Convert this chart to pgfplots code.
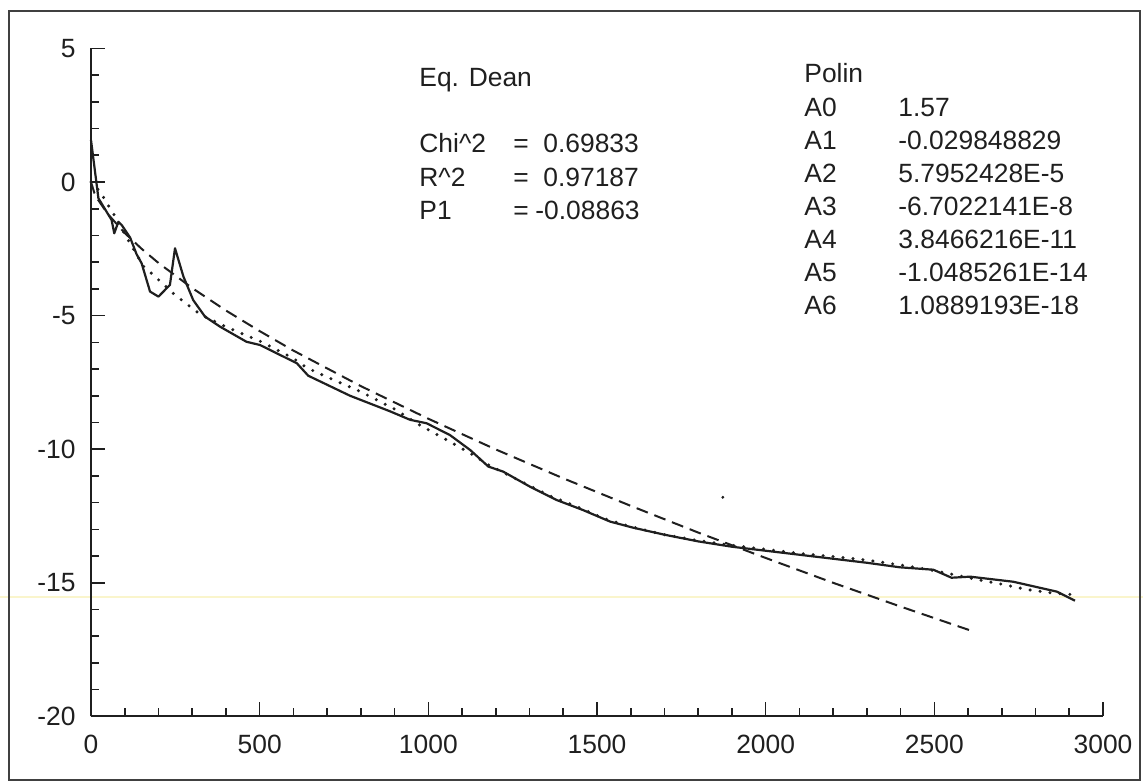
\documentclass[border=0pt]{standalone}
\usepackage{fontspec}
\setmainfont{Liberation Sans}
\usepackage{pgfplots}
\pgfplotsset{compat=1.18}

\definecolor{ink}{gray}{0.12}
\definecolor{scanline}{rgb}{0.98,0.96,0.80}

\begin{document}
\fontsize{13.2}{16}\selectfont
\begin{tikzpicture}
\useasboundingbox (-45.5pt,-32.8pt) rectangle (526pt,358.2pt);
% faint scan line across the page
\draw[scanline, line width=0.6pt] (-45.5pt,59.7pt) -- (526pt,59.7pt);
\begin{axis}[
    scale only axis, width=506pt, height=334pt,
    xmin=0, xmax=3000, ymin=-20, ymax=5,
    axis lines*=left, axis line style={ink, line width=1pt},
    xtick={0,500,...,3000}, ytick={-20,-15,...,5},
    xticklabels={0,500,1000,1500,2000,2500,3000},
    yticklabels={-20,-15,-10,-5,0,5},
    minor x tick num=4, minor y tick num=4,
    tick align=inside, major tick length=7pt, minor tick length=4pt,
    tick style={ink, line width=0.8pt},
    x tick label style={anchor=north, inner sep=0pt, yshift=-9pt, text=ink},
    y tick label style={anchor=east, inner sep=0pt, xshift=-7.5pt, text=ink},
    clip=false,
]
% measured data
\addplot[ink, line width=1.1pt, line join=round] coordinates {
    (0,1.57) (22,-0.61) (61,-1.42) (69,-1.92) (81,-1.49) (91,-1.61)
    (116,-2.08) (135,-2.70) (150,-3.04) (175,-4.10) (200,-4.29)
    (234,-3.85) (249,-2.48) (274,-3.54) (303,-4.42) (338,-5.04)
    (382,-5.41) (461,-5.98) (501,-6.10) (560,-6.47) (610,-6.78)
    (644,-7.25) (768,-8.00) (886,-8.58) (946,-8.90) (995,-9.03)
    (1064,-9.47) (1124,-10.03) (1178,-10.65) (1222,-10.84) (1301,-11.40)
    (1380,-11.90) (1459,-12.28) (1539,-12.71) (1608,-12.94) (1700,-13.20)
    (1800,-13.45) (1900,-13.65) (2000,-13.80) (2100,-13.95) (2200,-14.10)
    (2300,-14.25) (2398,-14.42) (2497,-14.51) (2551,-14.81) (2606,-14.77)
    (2734,-14.96) (2863,-15.33) (2917,-15.67)
};
% Dean equation fit
\addplot[ink, line width=1pt, dash pattern=on 6pt off 3.5pt] coordinates {
    (0,0) (10,-0.41) (20,-0.65) (50,-1.20) (100,-1.91) (150,-2.50)
    (200,-3.03) (300,-3.97) (400,-4.81) (500,-5.58) (600,-6.31)
    (800,-7.64) (1000,-8.86) (1200,-10.01) (1400,-11.09) (1600,-12.12)
    (1800,-13.12) (2000,-14.07) (2200,-15.00) (2400,-15.89) (2620,-16.84)
};
% polynomial fit
\addplot[ink, line width=1.7pt, line cap=round, dash pattern=on 0pt off 5pt] coordinates {
    (0,0.00) (27,-0.36) (46,-0.77) (66,-1.17) (100,-1.95) (155,-3.15)
    (190,-3.54) (244,-4.17) (279,-4.52) (313,-4.85) (338,-5.04)
    (400,-5.42) (500,-5.95) (600,-6.60) (639,-6.95) (700,-7.30)
    (800,-7.85) (900,-8.50) (975,-9.10) (1064,-9.72) (1124,-10.15)
    (1180,-10.60) (1250,-11.05) (1361,-11.75) (1450,-12.20) (1519,-12.59)
    (1600,-12.90) (1700,-13.20) (1800,-13.42) (1900,-13.60) (2000,-13.75)
    (2100,-13.90) (2200,-14.02) (2300,-14.15) (2398,-14.33) (2458,-14.45)
    (2541,-14.65) (2635,-14.90) (2695,-15.04) (2774,-15.25) (2848,-15.38)
    (2920,-15.45)
};
% stray speck
\addplot[only marks, mark=*, mark size=0.5pt, ink] coordinates {(1873,-11.8)};
\end{axis}
% fit summaries
\node[anchor=base west, inner sep=0pt, text=ink] at (164pt,314.7pt) {Eq. Dean};
\node[anchor=base west, inner sep=0pt, text=ink] at (164pt,281.7pt) {Chi\^{}2};
\node[anchor=base west, inner sep=0pt, text=ink] at (164pt,265pt) {R\^{}2};
\node[anchor=base west, inner sep=0pt, text=ink] at (164pt,248.3pt) {P1};
\node[anchor=base west, inner sep=0pt, text=ink] at (211pt,281.7pt) {=};
\node[anchor=base west, inner sep=0pt, text=ink] at (211pt,265pt) {=};
\node[anchor=base west, inner sep=0pt, text=ink] at (211pt,248.3pt) {=};
\node[anchor=base west, inner sep=0pt, text=ink] at (226pt,281.7pt) {0.69833};
\node[anchor=base west, inner sep=0pt, text=ink] at (226pt,265pt) {0.97187};
\node[anchor=base west, inner sep=0pt, text=ink] at (222pt,248.3pt) {-0.08863};
\node[anchor=base west, inner sep=0pt, text=ink] at (356.5pt,316.7pt) {Polin};
\foreach \lab/\val [count=\i from 0] in {A0/1.57, A1/-0.029848829, A2/5.7952428E-5,
    A3/-6.7022141E-8, A4/3.8466216E-11, A5/-1.0485261E-14, A6/1.0889193E-18} {
  \node[anchor=base west, inner sep=0pt, text=ink] at (356.5pt,299.7pt-\i*16.5pt) {\lab};
  \node[anchor=base west, inner sep=0pt, text=ink] at (403.5pt,299.7pt-\i*16.5pt) {\val};
}
% page frame
\draw[ink!85, line width=0.8pt] (-41pt,-31.8pt) rectangle (524.5pt,352.7pt);
\end{tikzpicture}
\end{document}
